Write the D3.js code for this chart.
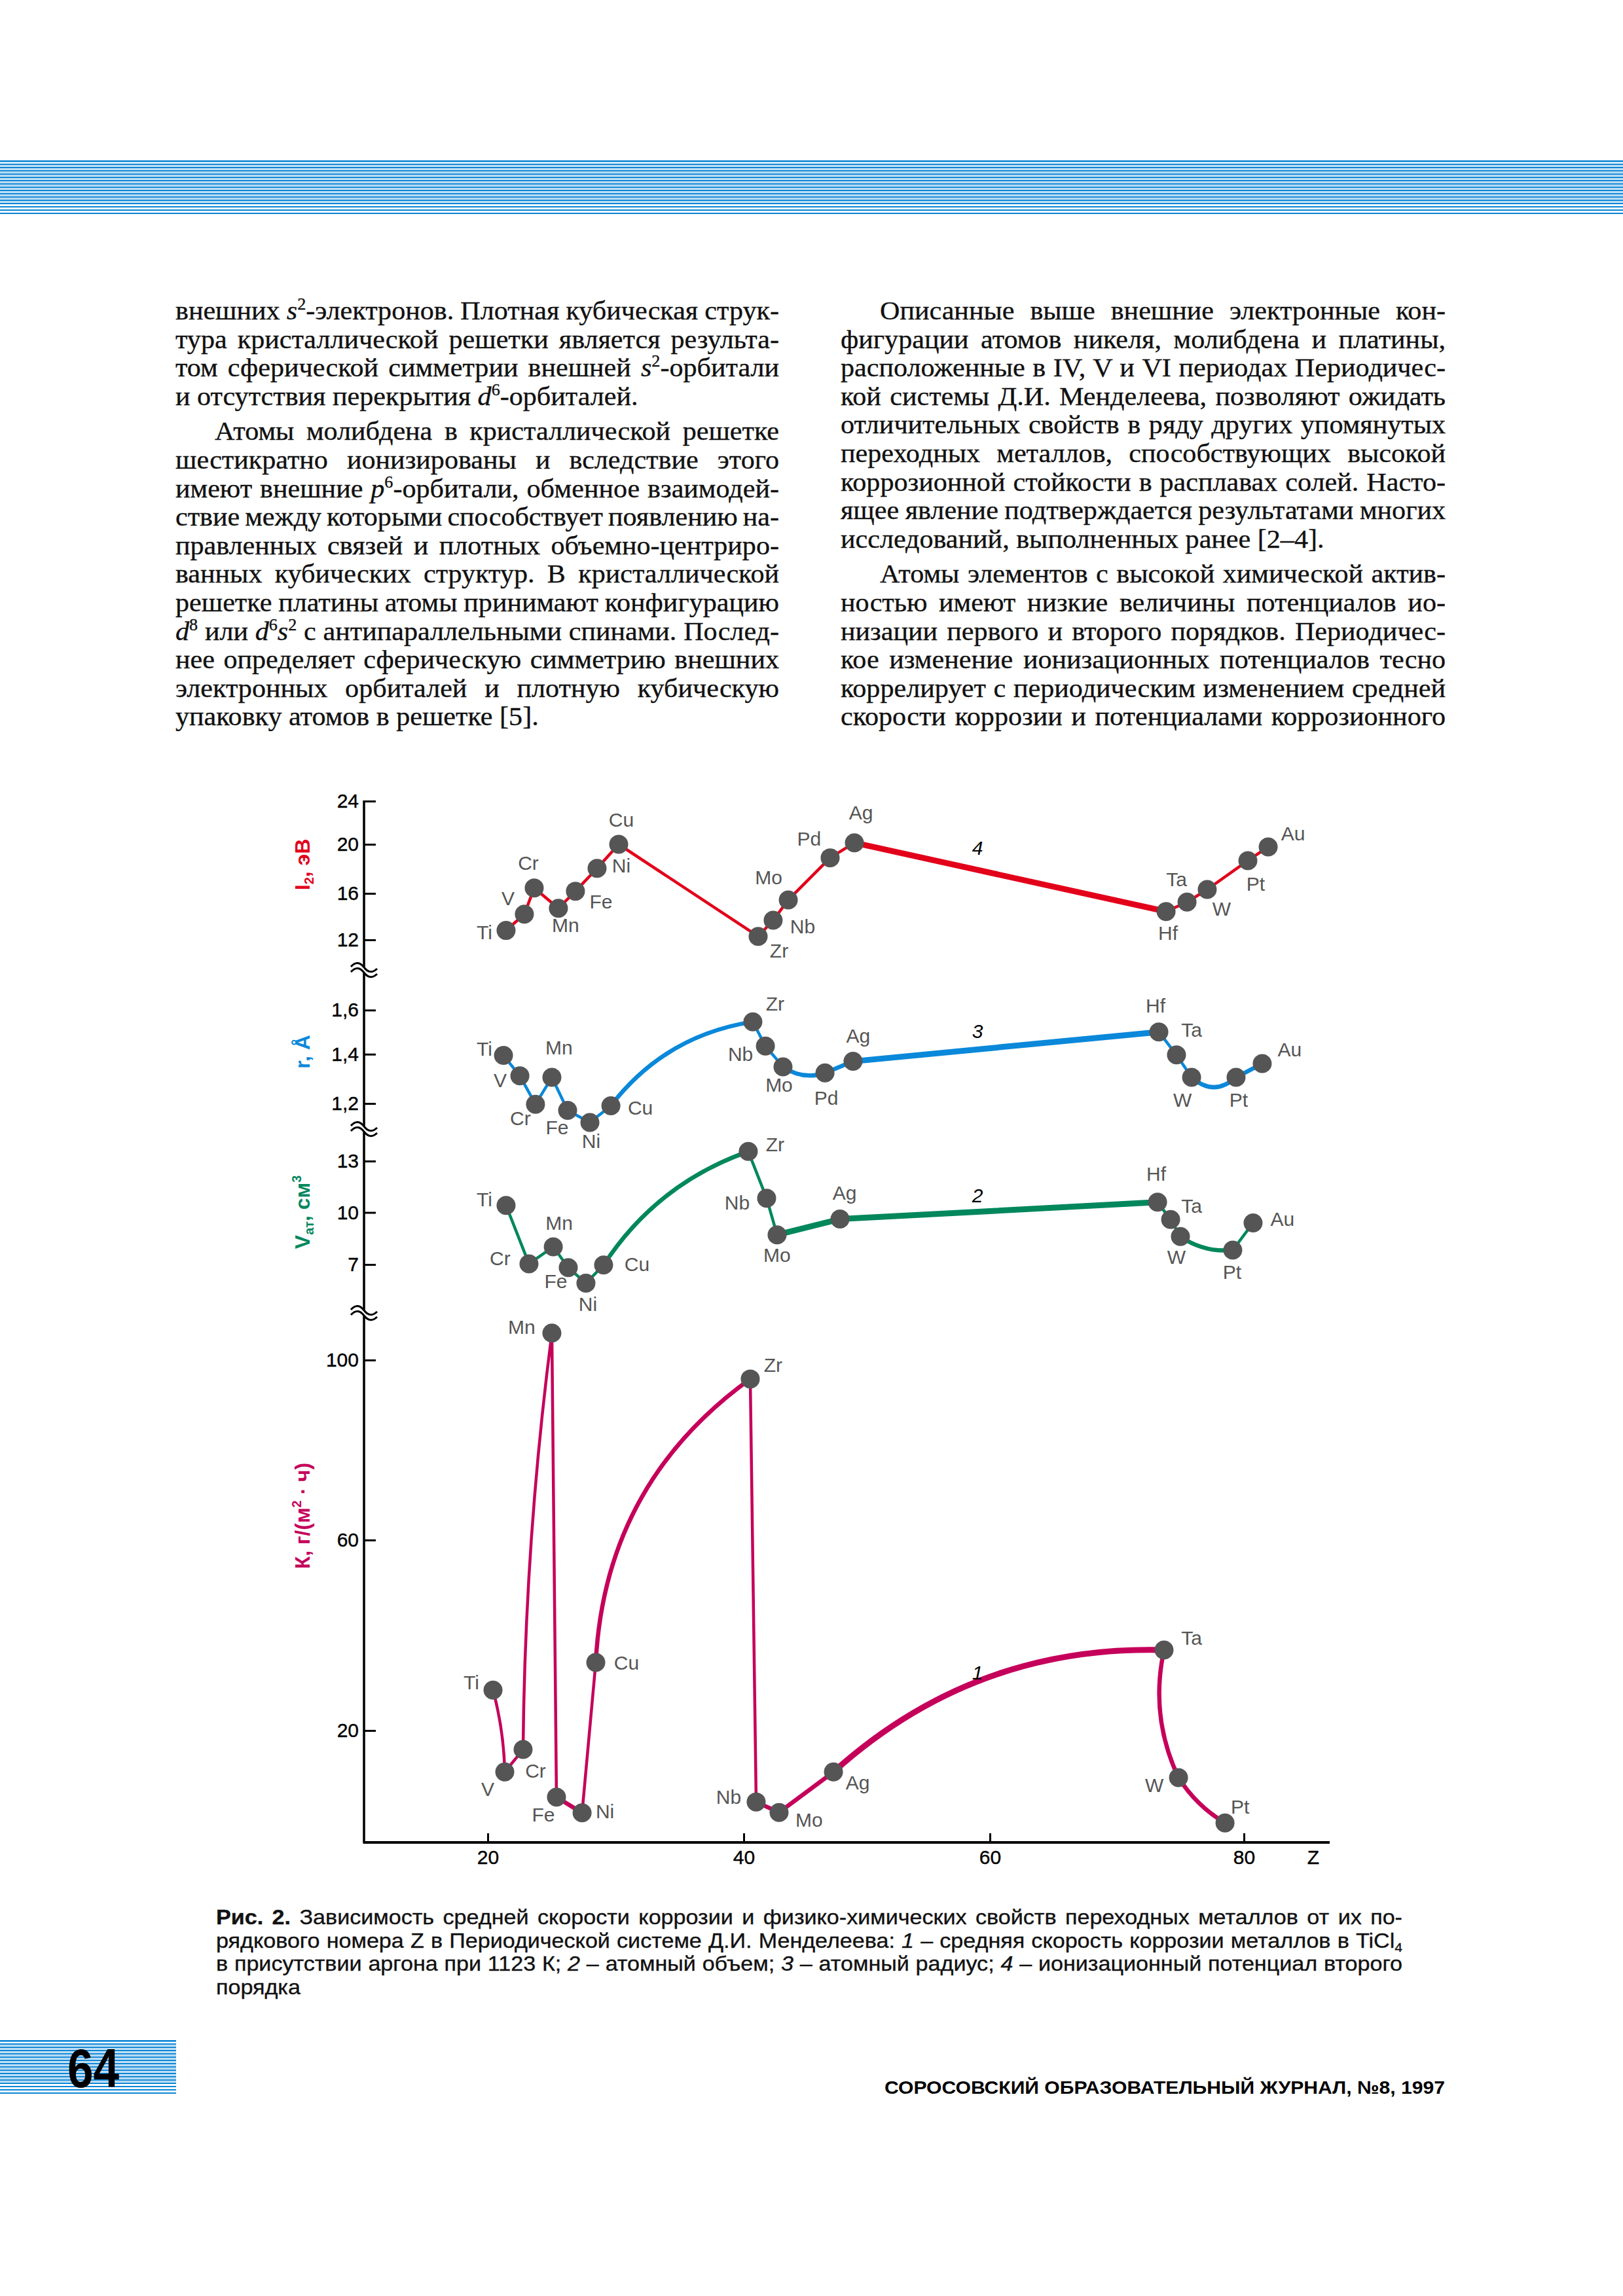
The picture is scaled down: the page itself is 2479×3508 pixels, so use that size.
<!DOCTYPE html>
<html><head><meta charset="utf-8">
<script src="https://cdn.jsdelivr.net/npm/d3@7/dist/d3.min.js"></script>
<style>html,body{margin:0;padding:0;background:#fff;}svg{display:block;}</style>
</head><body>
<script>
// ---------------- DATA ----------------
const zTicks = [20, 40, 60, 80];
const i2Ticks = [12, 16, 20, 24];
const rTicks = [1.2, 1.4, 1.6];
const vTicks = [7, 10, 13];
const kTicks = [20, 60, 100];

// 4 – second ionization potential, eV
const i2Elements = ["Ti","V","Cr","Mn","Fe","Ni","Cu","Zr","Nb","Mo","Pd","Ag","Hf","Ta","W","Pt","Au"];
const i2Z = [21.43,22.86,23.63,25.52,26.85,28.54,30.23,41.17,42.39,43.62,47.02,48.99,73.87,75.52,77.11,80.31,81.91];
const i2Values = [12.81,14.21,16.44,14.72,16.18,18.04,20.0,12.30,13.69,15.44,18.90,20.14,14.44,15.25,16.32,18.67,19.79];

// 3 – atomic radius, Å
const rElements = ["Ti","V","Cr","Mn","Fe","Ni","Cu","Zr","Nb","Mo","Pd","Ag","Hf","Ta","W","Pt","Au"];
const rZ = [21.23,22.51,23.73,25.01,26.24,27.98,29.62,40.74,41.76,43.19,46.60,48.88,73.30,74.69,75.88,79.38,81.44];
const rValues = [1.395,1.312,1.197,1.306,1.172,1.123,1.191,1.547,1.437,1.349,1.324,1.371,1.501,1.397,1.306,1.306,1.362];

// 2 – atomic volume, cm3
const vElements = ["Ti","Cr","Mn","Fe","Ni","Cu","Zr","Nb","Mo","Ag","Hf","Ta","W","Pt","Au"];
const vZ = [21.43,23.22,25.12,26.29,27.67,29.05,40.37,41.86,42.71,47.82,73.20,74.23,75.00,79.12,80.72];
const vValues = [10.41,7.04,8.02,6.82,5.92,6.97,13.56,10.83,8.71,9.62,10.60,9.59,8.61,7.83,9.40];

// 1 – corrosion rate, g/(m2·h)
const kElements = ["Ti","V","Cr","Mn","Fe","Ni","Cu","Zr","Nb","Mo","Ag","Ta","W","Pt"];
const kZ = [20.41,21.33,22.76,25.01,25.37,27.37,28.44,40.53,41.01,42.87,47.29,73.71,74.85,78.51];
const kValues = [28.5,11.3,16.0,106.0,6.0,2.7,34.3,95.8,5.0,2.8,11.3,36.9,10.1,0.6];

// curve number annotations (Z, value)
const curveNumbers = [
  {panel:"i2", text:"4", z:59, value:19.73},
  {panel:"r",  text:"3", z:59, value:1.506},
  {panel:"v",  text:"2", z:59, value:11.01},
  {panel:"k",  text:"1", z:59, value:32.2}
];

// ---------------- STYLE ----------------
const SERIF = '"Liberation Serif","Times New Roman",Times,serif';
const SANS = '"Liberation Sans",Arial,Helvetica,sans-serif';
const W = 2479, H = 3508;
const widthMap = {t:4.5, m:6.5, k:9};

const segStyle = {
  i2:{bends:[0,0,0,0,0,0,0,0,0,0,0,0,0,0,0,0], widths:"tttttttttttkttttt".split("")},
  r:{bends:[0,0,0,0,0,0,0.2,0,0,-0.25,0,0,0,0,-0.44,0], widths:"ttttttmttmmkttmm".split("")},
  v:{bends:[0,0,0,0,0,0.17,0,0,0,0,0,0,-0.18,0], widths:"tttttmttkkttmt".split("")},
  k:{bends:[0.06,0,0.03,0,0,0,0.24,0,0,0,0.2,-0.17,-0.12], widths:"ttttmtmtmmkmm".split("")}
};
const labelOffsets = {
  i2:{Ti:[-33,3],V:[-25,-25],Cr:[-9,-39],Mn:[11,25],Fe:[39,16],Ni:[37,-5],Cu:[4,-38],Zr:[32,22],Nb:[45,9],Mo:[-30,-35],Pd:[-32,-29],Ag:[10,-46],Hf:[3,33],Ta:[-16,-35],W:[22,29],Pt:[12,35],Au:[38,-21]},
  r:{Ti:[-29,-10],V:[-30,6],Cr:[-23,21],Mn:[11,-46],Fe:[-16,26],Ni:[2,28],Cu:[45,3],Zr:[34,-28],Nb:[-38,12],Mo:[-6,27],Pd:[2,38],Ag:[8,-39],Hf:[-5,-40],Ta:[23,-39],W:[-14,34],Pt:[4,34],Au:[42,-22]},
  v:{Ti:[-33,-10],Cr:[-44,-9],Mn:[9,-37],Fe:[-19,20],Ni:[3,32],Cu:[51,-2],Zr:[41,-11],Nb:[-45,6],Mo:[0,31],Ag:[7,-40],Hf:[-2,-44],Ta:[32,-21],W:[-6,31],Pt:[-1,33],Au:[45,-6]},
  k:{Ti:[-33,-12],V:[-26,26],Cr:[19,32],Mn:[-46,-10],Fe:[-20,26],Ni:[35,-3],Cu:[47,0],Zr:[35,-22],Nb:[-42,-8],Mo:[46,11],Ag:[37,16],Ta:[42,-19],W:[-37,11],Pt:[23,-25]}
};

// ---------------- TEXT ----------------
const leftLines = [
  "внешних *s*^2^-электронов. Плотная кубическая струк-",
  "тура кристаллической решетки является результа-",
  "том сферической симметрии внешней *s*^2^-орбитали",
  "и отсутствия перекрытия *d*^6^-орбиталей.$",
  "¶Атомы молибдена в кристаллической решетке",
  "шестикратно ионизированы и вследствие этого",
  "имеют внешние *p*^6^-орбитали, обменное взаимодей-",
  "ствие между которыми способствует появлению на-",
  "правленных связей и плотных объемно-центриро-",
  "ванных кубических структур. В кристаллической",
  "решетке платины атомы принимают конфигурацию",
  "*d*^8^ или *d*^6^*s*^2^ с антипараллельными спинами. Послед-",
  "нее определяет сферическую симметрию внешних",
  "электронных орбиталей и плотную кубическую",
  "упаковку атомов в решетке [5].$"
];
const rightLines = [
  "¶Описанные выше внешние электронные кон-",
  "фигурации атомов никеля, молибдена и платины,",
  "расположенные в IV, V и VI периодах Периодичес-",
  "кой системы Д.И. Менделеева, позволяют ожидать",
  "отличительных свойств в ряду других упомянутых",
  "переходных металлов, способствующих высокой",
  "коррозионной стойкости в расплавах солей. Насто-",
  "ящее явление подтверждается результатами многих",
  "исследований, выполненных ранее [2–4].$",
  "¶Атомы элементов с высокой химической актив-",
  "ностью имеют низкие величины потенциалов ио-",
  "низации первого и второго порядков. Периодичес-",
  "кое изменение ионизационных потенциалов тесно",
  "коррелирует с периодическим изменением средней",
  "скорости коррозии и потенциалами коррозионного"
];
const captionLines = [
  "#Рис. 2.# Зависимость средней скорости коррозии и физико-химических свойств переходных металлов от их по-",
  "рядкового номера Z в Периодической системе Д.И. Менделеева: *1* – средняя скорость коррозии металлов в TiCl_4_",
  "в присутствии аргона при 1123 К; *2* – атомный объем; *3* – атомный радиус; *4* – ионизационный потенциал второго",
  "порядка$"
];

// ---------------- HELPERS ----------------
function rich(textSel, str, size){
  const parts = str.split(/(\*[^*]+\*|\^[^^]+\^|_[^_]+_|#[^#]+#)/).filter(s => s.length > 0);
  let shift = 0;
  parts.forEach(p => {
    const t = textSel.append("tspan");
    let c = p, target = 0;
    const f = p[0], l = p[p.length-1];
    if (p.length > 2 && f === l && "*^_#".includes(f)) {
      c = p.slice(1, -1);
      if (f === "*") t.attr("font-style", "italic");
      if (f === "#") t.attr("font-weight", "bold");
      if (f === "^") { t.attr("font-size", size*0.62); target = -size*0.38; }
      if (f === "_") { t.attr("font-size", size*0.62); target = size*0.2; }
    }
    if (target - shift !== 0) t.attr("dy", (target - shift).toFixed(2));
    shift = target;
    t.text(c);
  });
}
function justify(sel, target){
  const node = sel.node();
  const nat = node.getComputedTextLength();
  const nsp = (node.textContent.match(/ /g) || []).length;
  if (!nsp) return;
  sel.attr("word-spacing", ((target - nat)/nsp).toFixed(2));
  const after = node.getComputedTextLength();
  if (Math.abs(after - target) > 4) {
    sel.attr("word-spacing", null).attr("textLength", target).attr("lengthAdjust", "spacing");
  }
}
function block(lines, x0, width, y0, step, gap, family, size, sx, indentW){
  const g = svg.append("g").attr("font-family", family).attr("font-size", size)
    .attr("fill", "#111").attr("stroke", "#111").attr("stroke-width", 0.35);
  let y = y0;
  lines.forEach((raw, i) => {
    let s = raw, indent = 0, just = true;
    if (s.startsWith("¶")) { s = s.slice(1); indent = indentW; if (i > 0) y += gap; }
    if (s.endsWith("$")) { s = s.slice(0, -1); just = false; }
    const lg = g.append("g").attr("transform", `translate(${x0 + indent},${y}) scale(${sx},1)`);
    const t = lg.append("text").attr("x", 0).attr("y", 0).style("white-space", "pre");
    rich(t, s, size);
    if (just) justify(t, (width - indent)/sx);
    y += step;
  });
}

// ---------------- SVG ----------------
const svg = d3.select("body").append("svg").attr("width", W).attr("height", H).attr("viewBox", `0 0 ${W} ${H}`);
svg.append("rect").attr("width", W).attr("height", H).attr("fill", "#fff");

function stripes(x0, x1, y0, n){
  const g = svg.append("g");
  for (let k = 0; k < n; k++) {
    g.append("rect").attr("x", x0).attr("width", x1 - x0).attr("y", y0 + 5*k).attr("height", k === 0 ? 2.6 : 2).attr("fill", "#0a84d4");
    if (k > 0 && k < n - 4) g.append("rect").attr("x", x0).attr("width", x1 - x0).attr("y", y0 + 5*k + 2.7).attr("height", 1.5).attr("fill", "#8fc7ee");
  }
}
stripes(0, W, 245, 17);
stripes(0, 269, 3117, 17);

// body text
block(leftLines, 268, 922, 488, 43.6, 10, SERIF, 39, 1.08, 60);
block(rightLines, 1284, 924, 488, 43.6, 10, SERIF, 39, 1.08, 60);

// ---------------- CHART ----------------
const x = d3.scaleLinear().domain(zTicks).range([745, 1136, 1512, 1900]);
const yI2 = d3.scaleLinear().domain(i2Ticks).range([1436, 1365, 1290, 1224]);
const yR = d3.scaleLinear().domain(rTicks).range([1686, 1610.7, 1543.3]);
const yV = d3.scaleLinear().domain(vTicks).range([1932, 1852.5, 1774]);
const yK = d3.scaleLinear().domain(kTicks).range([2644, 2353, 2078]);

const panels = [
  {key:"i2", elements:i2Elements, z:i2Z, values:i2Values, y:yI2, ticks:i2Ticks, fmt:d => d, color:"#e2001a", title:"I_2_, эВ", titleY:1321},
  {key:"r", elements:rElements, z:rZ, values:rValues, y:yR, ticks:rTicks, fmt:d => d.toFixed(1).replace(".", ","), color:"#0a88da", title:"r, Å", titleY:1607},
  {key:"v", elements:vElements, z:vZ, values:vValues, y:yV, ticks:vTicks, fmt:d => d, color:"#00875c", title:"V_ат_, см^3^", titleY:1852},
  {key:"k", elements:kElements, z:kZ, values:kValues, y:yK, ticks:kTicks, fmt:d => d, color:"#c5005a", title:"К, г/(м^2^ · ч)", titleY:2316}
];
const AX = 556, AXTOP = 1223, AXBOT = 2815;

svg.append("line").attr("x1", AX).attr("x2", AX).attr("y1", AXTOP).attr("y2", AXBOT).attr("stroke", "#000").attr("stroke-width", 3.5);
svg.append("line").attr("x1", AX - 1.5).attr("x2", 2031).attr("y1", AXBOT).attr("y2", AXBOT).attr("stroke", "#000").attr("stroke-width", 4);

panels.forEach(p => {
  const g = svg.append("g").attr("transform", `translate(${AX},0)`)
    .call(d3.axisLeft(p.y).tickValues(p.ticks).tickFormat(p.fmt).tickSizeInner(-18).tickSizeOuter(0).tickPadding(8));
  g.select(".domain").remove();
  g.attr("font-size", 30).attr("font-family", SANS);
  g.selectAll(".tick line").attr("stroke-width", 3);
  g.selectAll(".tick text").attr("fill", "#000").attr("stroke", "#000").attr("stroke-width", 0.4);
  const tt = svg.append("text").attr("transform", `translate(461,${p.titleY}) rotate(-90)`)
    .attr("text-anchor", "middle").attr("dy", "0.36em").attr("font-family", SANS).attr("font-size", 32)
    .attr("font-weight", "bold").attr("fill", p.color).style("white-space", "pre");
  rich(tt, p.title, 32);
});

const gx = svg.append("g").attr("transform", `translate(0,${AXBOT})`)
  .call(d3.axisBottom(x).tickValues(zTicks).tickSizeInner(-14).tickSizeOuter(0).tickPadding(12));
gx.select(".domain").remove();
gx.attr("font-size", 30).attr("font-family", SANS);
gx.selectAll(".tick line").attr("stroke-width", 3);
gx.selectAll(".tick text").attr("fill", "#000").attr("stroke", "#000").attr("stroke-width", 0.4);
svg.append("text").attr("x", 2006).attr("y", 2848).attr("text-anchor", "middle").attr("font-family", SANS)
  .attr("font-size", 30).attr("stroke", "#000").attr("stroke-width", 0.4).text("Z");

// axis breaks
[1482, 1725, 2006].forEach(yb => {
  const g = svg.append("g").attr("transform", `translate(${AX},${yb})`);
  g.append("rect").attr("x", -5).attr("y", -4).attr("width", 10).attr("height", 8).attr("fill", "#fff");
  [-4, 4].forEach(o => {
    const pth = d3.path();
    pth.moveTo(-20, o - 1);
    pth.bezierCurveTo(-13, o - 9, -6, o - 8, 0, o);
    pth.bezierCurveTo(6, o + 8, 13, o + 9, 20, o + 2);
    g.append("path").attr("d", pth.toString()).attr("fill", "none").attr("stroke", "#000").attr("stroke-width", 3);
  });
});

// series
panels.forEach(p => {
  const st = segStyle[p.key];
  const pts = p.elements.map((el, i) => ({el, px:x(p.z[i]), py:p.y(p.values[i])}));
  const g = svg.append("g");
  for (let i = 0; i < pts.length - 1; i++) {
    const a = pts[i], b = pts[i+1], bend = st.bends[i];
    const pth = d3.path();
    pth.moveTo(a.px, a.py);
    if (bend) {
      const dx = b.px - a.px, dy = b.py - a.py;
      pth.quadraticCurveTo((a.px + b.px)/2 + dy*bend, (a.py + b.py)/2 - dx*bend, b.px, b.py);
    } else pth.lineTo(b.px, b.py);
    g.append("path").attr("d", pth.toString()).attr("fill", "none").attr("stroke", p.color)
      .attr("stroke-width", widthMap[st.widths[i]]).attr("stroke-linecap", "round").attr("stroke-linejoin", "round");
  }
  g.selectAll("circle").data(pts).join("circle").attr("cx", d => d.px).attr("cy", d => d.py).attr("r", 14.5).attr("fill", "#555");
  const offs = labelOffsets[p.key];
  g.selectAll("text.lbl").data(pts).join("text").attr("class", "lbl")
    .attr("x", d => d.px + offs[d.el][0]).attr("y", d => d.py + offs[d.el][1]).attr("dy", "0.36em")
    .attr("text-anchor", "middle").attr("font-family", SANS).attr("font-size", 30).attr("fill", "#555")
    .text(d => d.el);
});
const yByKey = {i2:yI2, r:yR, v:yV, k:yK};
svg.selectAll("text.num").data(curveNumbers).join("text").attr("class", "num")
  .attr("x", d => x(d.z)).attr("y", d => yByKey[d.panel](d.value)).attr("dy", "0.36em")
  .attr("text-anchor", "middle").attr("font-family", SANS).attr("font-size", 30).attr("font-style", "italic")
  .attr("fill", "#000").text(d => d.text);

// caption
block(captionLines, 330, 1812, 2940, 35.6, 0, SANS, 31, 1.1, 0);

// footer
svg.append("text").attr("x", 103).attr("y", 3189).attr("font-family", SANS).attr("font-weight", "bold")
  .attr("font-size", 84).attr("textLength", 79).attr("lengthAdjust", "spacingAndGlyphs").attr("fill", "#000").text("64");
svg.append("text").attr("x", 1351).attr("y", 3199).attr("font-family", SANS).attr("font-weight", "bold")
  .attr("font-size", 28).attr("textLength", 856).attr("lengthAdjust", "spacingAndGlyphs").attr("fill", "#000")
  .text("СОРОСОВСКИЙ ОБРАЗОВАТЕЛЬНЫЙ ЖУРНАЛ, №8, 1997");
</script>
</body></html>
